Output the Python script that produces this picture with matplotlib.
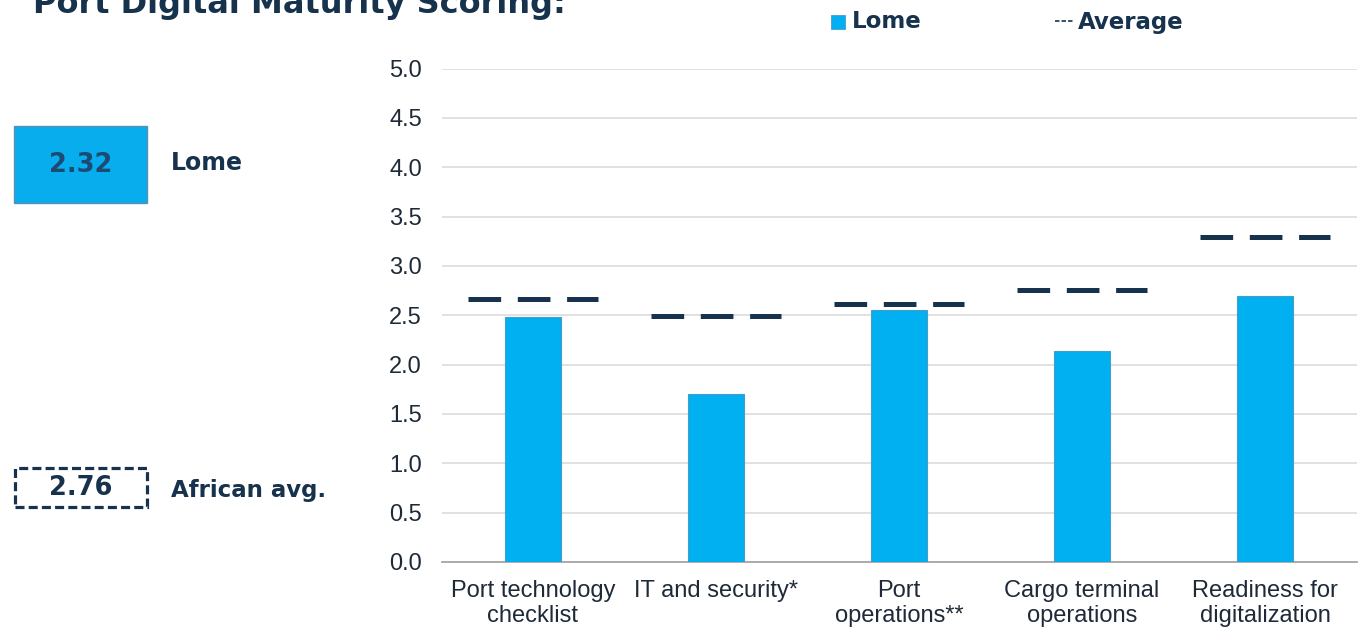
import numpy as np
import matplotlib.pyplot as plt
from matplotlib.patches import Rectangle

# data
categories = ["Port technology\nchecklist", "IT and security*", "Port\noperations**",
              "Cargo terminal\noperations", "Readiness for\ndigitalization"]
lome = [2.48, 1.70, 2.55, 2.14, 2.70]
average = [2.66, 2.49, 2.61, 2.76, 3.29]
yticks = [0.0, 0.5, 1.0, 1.5, 2.0, 2.5, 3.0, 3.5, 4.0, 4.5, 5.0]
lome_score = "2.32"
african_avg = "2.76"

W, H = 1362, 628
navy = '#17324d'
blue = '#00b0f0'

plt.rcParams['lines.scale_dashes'] = False

fig = plt.figure(figsize=(W / 100, H / 100), dpi=100)
ax = fig.add_axes([441.5 / W, 1 - 562 / H, 915 / W, (562 - 68.5) / H])

x = np.arange(len(categories))
ax.bar(x, lome, width=0.31, color=blue, edgecolor='#4a9cc8', linewidth=0.8, zorder=3)
for i, v in enumerate(average):
    ax.plot([i - 0.355, i + 0.355], [v, v], color=navy, linewidth=3.6,
            dashes=(23.5, 12.0), solid_capstyle='butt', dash_capstyle='butt', zorder=4)

ax.set_xlim(-0.5, len(categories) - 0.5)
ax.set_ylim(0, 5)
ax.set_yticks(yticks)
ax.set_yticklabels([f"{t:.1f}" for t in yticks])
ax.set_xticks(x)
ax.set_xticklabels(categories, linespacing=1.16)
ax.yaxis.grid(True, color='#d9d9d9', linewidth=1.1, zorder=0)
ax.set_axisbelow(True)
for s in ['top', 'right', 'left']:
    ax.spines[s].set_visible(False)
ax.spines['bottom'].set_color('#a6a6a6')
ax.spines['bottom'].set_linewidth(1.3)
ax.tick_params(axis='both', length=0, labelsize=17, labelcolor='#1e2a38')
ax.tick_params(axis='y', pad=14)
ax.tick_params(axis='x', pad=13)
for lab in ax.get_xticklabels() + ax.get_yticklabels():
    lab.set_family('Liberation Sans')

# title (cut off at top in the reference)
fig.text(33 / W, 1 - 12.5 / H, "Port Digital Maturity Scoring:", fontsize=23,
         fontweight='bold', color=navy, va='baseline', ha='left', family='DejaVu Sans')

# top legend
fig.patches.append(Rectangle((831 / W, 1 - 29 / H), 14 / W, 14 / H, transform=fig.transFigure,
                             facecolor=blue, edgecolor='#4a9cc8', linewidth=0.6))
fig.text(852 / W, 1 - 22 / H, "Lome", fontsize=16.5, fontweight='bold', color=navy,
         va='center', ha='left', family='DejaVu Sans')
fig.lines.append(plt.Line2D([1055 / W, 1073 / W], [1 - 21 / H, 1 - 21 / H], transform=fig.transFigure,
                            color=navy, linewidth=1.2, dashes=(3.2, 1.5)))
fig.text(1078 / W, 1 - 22 / H, "Average", fontsize=16.5, fontweight='bold', color=navy,
         va='center', ha='left', family='DejaVu Sans')

# left summary boxes
fig.patches.append(Rectangle((14 / W, 1 - 203 / H), 133 / W, 77 / H, transform=fig.transFigure,
                             facecolor='#07adec', edgecolor='#5b8fb5', linewidth=1.0))
fig.text(80.5 / W, 1 - 164.5 / H, lome_score, fontsize=18.5, fontweight='bold', color='#1d4a73',
         va='center', ha='center', family='DejaVu Sans')
fig.text(171 / W, 1 - 163 / H, "Lome", fontsize=17, fontweight='bold', color=navy,
         va='center', ha='left', family='DejaVu Sans')

fig.patches.append(Rectangle((14.5 / W, 1 - 507 / H), 132 / W, 39 / H, transform=fig.transFigure,
                             facecolor='none', edgecolor=navy, linewidth=2.3,
                             linestyle=(0, (6.5, 3.0))))
fig.text(80.5 / W, 1 - 488 / H, african_avg, fontsize=18.5, fontweight='bold', color=navy,
         va='center', ha='center', family='DejaVu Sans')
fig.text(171 / W, 1 - 490 / H, "African avg.", fontsize=16.5, fontweight='bold', color=navy,
         va='center', ha='left', family='DejaVu Sans')

fig.savefig('out.png', dpi=100, facecolor='white')
